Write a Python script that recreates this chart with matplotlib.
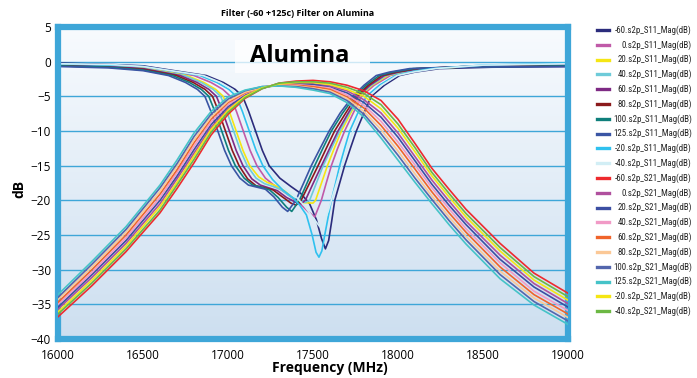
import numpy as np
import matplotlib
matplotlib.use('Agg')
import matplotlib.pyplot as plt
from matplotlib.colors import LinearSegmentedColormap
from matplotlib.lines import Line2D
from matplotlib.patches import Rectangle
from matplotlib import font_manager

# ---- S21 curves (shared frequency grid, MHz) ----
s21_freq = [16000, 16200, 16400, 16600, 16700, 16800, 16900, 17000, 17100, 17200, 17300, 17400, 17500,
            17600, 17700, 17800, 17900, 18000, 18100, 18200, 18300, 18400, 18600, 18800, 19000]
s21_m60 = [-36.8, -32.3, -27.4, -21.8, -18.3, -14.6, -10.6, -7.6, -5.3, -3.9, -3.1, -2.8, -2.7,
           -2.9, -3.4, -4.2, -5.6, -8.3, -11.8, -15.4, -18.4, -21.3, -26.2, -30.5, -33.4]
s21_m40 = [-36.4, -31.9, -27.0, -21.4, -17.8, -14.1, -10.2, -7.3, -5.2, -3.9, -3.1, -2.9, -2.9,
           -3.1, -3.7, -4.6, -6.2, -9.0, -12.4, -16.0, -19.0, -21.9, -26.8, -31.0, -33.9]
s21_m20 = [-36.1, -31.5, -26.6, -20.9, -17.4, -13.6, -9.8, -7.0, -5.0, -3.8, -3.2, -3.0, -3.0,
           -3.3, -4.0, -5.0, -6.8, -9.6, -13.0, -16.5, -19.5, -22.4, -27.3, -31.5, -34.4]
s21_p0 = [-35.7, -31.1, -26.2, -20.5, -16.9, -13.2, -9.5, -6.8, -4.9, -3.8, -3.2, -3.1, -3.2,
          -3.5, -4.2, -5.5, -7.4, -10.3, -13.7, -17.1, -20.1, -23.0, -27.9, -32.0, -34.9]
s21_p20 = [-35.4, -30.7, -25.8, -20.0, -16.5, -12.7, -9.1, -6.5, -4.8, -3.8, -3.3, -3.2, -3.3,
           -3.7, -4.5, -5.9, -8.0, -10.9, -14.3, -17.7, -20.7, -23.5, -28.5, -32.5, -35.4]
s21_p40 = [-35.0, -30.4, -25.4, -19.6, -16.0, -12.2, -8.7, -6.2, -4.6, -3.7, -3.3, -3.3, -3.5,
           -3.8, -4.8, -6.3, -8.6, -11.6, -14.9, -18.2, -21.2, -24.1, -29.0, -33.1, -35.9]
s21_p60 = [-34.7, -30.0, -25.0, -19.1, -15.6, -11.7, -8.3, -5.9, -4.5, -3.7, -3.4, -3.4, -3.6,
           -4.0, -5.1, -6.7, -9.2, -12.2, -15.5, -18.8, -21.8, -24.6, -29.6, -33.6, -36.4]
s21_p80 = [-34.3, -29.6, -24.6, -18.7, -15.1, -11.3, -8.0, -5.7, -4.4, -3.7, -3.4, -3.5, -3.8,
           -4.2, -5.3, -7.2, -9.8, -12.9, -16.2, -19.4, -22.4, -25.2, -30.2, -34.1, -36.9]
s21_p100 = [-34.0, -29.2, -24.2, -18.2, -14.7, -10.8, -7.6, -5.4, -4.2, -3.6, -3.5, -3.6, -3.9,
            -4.4, -5.6, -7.6, -10.4, -13.5, -16.8, -19.9, -22.9, -25.7, -30.7, -34.6, -37.4]
s21_p125 = [-33.6, -28.8, -23.8, -17.8, -14.2, -10.3, -7.2, -5.1, -4.1, -3.6, -3.5, -3.7, -4.1,
            -4.6, -5.9, -8.0, -11.0, -14.2, -17.4, -20.5, -23.5, -26.3, -31.3, -35.1, -37.9]

# ---- S11 curves (each with its own frequency points, MHz) ----
s11_f_m60 = [16000, 16300, 16500, 16736, 16872, 16972, 17042, 17086, 17122, 17162, 17202, 17242,
             17305, 17370, 17428, 17480, 17520, 17550, 17573, 17592, 17610, 17628, 17657, 17686,
             17720, 17755, 17798, 17843, 17920, 18009, 18100, 18244, 18550, 19000]
s11_db_m60 = [-0.2, -0.4, -0.6, -1.5, -2.0, -3.0, -4.0, -5.0, -7.2, -10.0, -12.8, -15.0,
              -16.8, -18.0, -19.0, -20.5, -22.8, -25.5, -27.0, -25.8, -23.0, -20.0, -17.5, -15.0,
              -12.5, -10.0, -7.5, -5.0, -3.4, -2.0, -1.5, -1.0, -0.8, -0.7]
s11_f_m40 = [16000, 16300, 16500, 16855, 16955, 17025, 17069, 17105, 17145, 17185, 17225,
             17285, 17340, 17400, 17450, 17500, 17540, 17560, 17590, 17620, 17670, 17700, 17735,
             17780, 17830, 17905, 17995, 18090, 18220, 18500, 19000]
s11_db_m40 = [-0.3, -0.4, -0.7, -2.0, -3.0, -4.0, -5.0, -7.2, -10.0, -12.8, -15.0,
              -17.0, -18.4, -19.5, -20.8, -22.5, -23.8, -23.5, -21.5, -19.0, -15.0, -12.5, -10.0,
              -7.5, -5.0, -3.4, -2.0, -1.5, -1.0, -0.5, -0.3]
s11_f_m20 = [16000, 16300, 16500, 16835, 16935, 17005, 17049, 17085, 17125, 17165, 17205,
             17262, 17322, 17380, 17422, 17461, 17495, 17518, 17535, 17552, 17569, 17608, 17633,
             17657, 17686, 17716, 17762, 17814, 17890, 17985, 18070, 18200, 18500, 19000]
s11_db_m20 = [-0.3, -0.5, -0.7, -2.0, -3.0, -4.0, -5.0, -7.2, -10.0, -12.8, -15.0,
              -17.0, -18.5, -19.6, -20.7, -22.1, -25.0, -27.5, -28.2, -27.3, -25.0, -20.0, -17.5,
              -15.0, -12.5, -10.0, -7.5, -5.0, -3.4, -2.0, -1.5, -1.0, -0.5, -0.2]
s11_f_p0 = [16000, 16300, 16500, 16800, 16900, 16970, 17014, 17050, 17090, 17130, 17170,
            17220, 17270, 17320, 17370, 17425, 17470, 17510, 17549, 17578, 17608, 17645, 17686,
            17735, 17784, 17860, 17955, 18045, 18180, 18500, 19000]
s11_db_p0 = [-0.4, -0.5, -0.8, -2.0, -3.0, -4.0, -5.0, -7.2, -10.0, -12.8, -15.0,
             -16.8, -17.8, -18.6, -19.5, -20.5, -21.6, -22.4, -20.0, -17.5, -15.0, -12.5, -10.0,
             -7.5, -5.0, -3.4, -2.0, -1.5, -1.0, -0.6, -0.4]
s11_f_p20 = [16000, 16300, 16500, 16758, 16858, 16928, 16972, 17008, 17048, 17088, 17128,
             17180, 17230, 17280, 17330, 17380, 17420, 17500, 17515, 17550, 17585, 17625, 17667,
             17720, 17775, 17848, 17940, 18030, 18160, 18450, 19000]
s11_db_p20 = [-0.4, -0.6, -0.9, -2.0, -3.0, -4.0, -5.0, -7.2, -10.0, -12.8, -15.0,
              -16.6, -17.4, -17.9, -18.6, -19.6, -20.3, -20.4, -20.0, -17.5, -15.0, -12.5, -10.0,
              -7.5, -5.0, -3.4, -2.0, -1.5, -1.0, -0.7, -0.5]
s11_f_p40 = [16000, 16300, 16500, 16743, 16843, 16913, 16957, 16993, 17033, 17073, 17113,
             17165, 17215, 17265, 17315, 17370, 17425, 17455, 17480, 17520, 17560, 17608, 17657,
             17712, 17770, 17842, 17930, 18020, 18150, 18450, 19000]
s11_db_p40 = [-0.5, -0.7, -1.0, -2.0, -3.0, -4.0, -5.0, -7.2, -10.0, -12.8, -15.0,
              -16.8, -17.6, -18.0, -18.5, -19.5, -20.1, -20.3, -20.0, -17.5, -15.0, -12.5, -10.0,
              -7.5, -5.0, -3.4, -2.0, -1.5, -1.0, -0.6, -0.4]
s11_f_p60 = [16000, 16300, 16500, 16718, 16818, 16888, 16932, 16968, 17008, 17048, 17088,
             17140, 17190, 17240, 17290, 17345, 17400, 17430, 17455, 17502, 17550, 17598, 17647,
             17705, 17765, 17835, 17920, 18005, 18130, 18400, 19000]
s11_db_p60 = [-0.5, -0.7, -1.0, -2.0, -3.0, -4.0, -5.0, -7.2, -10.0, -12.8, -15.0,
              -16.9, -17.8, -18.2, -18.6, -19.6, -20.3, -20.5, -20.0, -17.5, -15.0, -12.5, -10.0,
              -7.5, -5.0, -3.4, -2.0, -1.5, -1.0, -0.7, -0.5]
s11_f_p80 = [16000, 16300, 16500, 16695, 16795, 16865, 16909, 16945, 16985, 17025, 17065,
             17115, 17165, 17215, 17265, 17320, 17370, 17400, 17430, 17480, 17530, 17578, 17627,
             17690, 17755, 17825, 17905, 17990, 18110, 18400, 19000]
s11_db_p80 = [-0.6, -0.8, -1.1, -2.0, -3.0, -4.0, -5.0, -7.2, -10.0, -12.8, -15.0,
              -16.9, -17.9, -18.2, -18.5, -19.5, -20.4, -20.7, -20.0, -17.5, -15.0, -12.5, -10.0,
              -7.5, -5.0, -3.4, -2.0, -1.5, -1.0, -0.7, -0.6]
s11_f_p100 = [16000, 16300, 16500, 16673, 16773, 16843, 16887, 16923, 16963, 17003, 17043,
              17095, 17145, 17195, 17245, 17295, 17345, 17375, 17420, 17465, 17510, 17558, 17608,
              17672, 17745, 17812, 17890, 17970, 18090, 18350, 19000]
s11_db_p100 = [-0.6, -0.8, -1.2, -2.0, -3.0, -4.0, -5.0, -7.2, -10.0, -12.8, -15.0,
               -16.8, -17.8, -18.1, -18.5, -19.6, -21.0, -21.6, -20.0, -17.5, -15.0, -12.5, -10.0,
               -7.5, -5.0, -3.4, -2.0, -1.5, -1.0, -0.8, -0.6]
s11_f_p125 = [16000, 16300, 16500, 16650, 16750, 16820, 16864, 16900, 16940, 16980, 17020,
              17070, 17120, 17170, 17220, 17270, 17320, 17351, 17399, 17445, 17490, 17540, 17595,
              17660, 17734, 17800, 17872, 17950, 18068, 18300, 19000]
s11_db_p125 = [-0.7, -0.9, -1.3, -2.0, -3.0, -4.0, -5.0, -7.2, -10.0, -12.8, -15.0,
               -16.8, -17.8, -18.1, -18.4, -19.5, -21.0, -21.6, -20.0, -17.5, -15.0, -12.6, -10.0,
               -7.4, -5.0, -3.4, -2.0, -1.5, -1.0, -0.8, -0.7]

temps = ['-60', '0', '20', '40', '60', '80', '100', '125', '-20', '-40']
s11_freqs = [s11_f_m60, s11_f_p0, s11_f_p20, s11_f_p40, s11_f_p60, s11_f_p80, s11_f_p100, s11_f_p125, s11_f_m20, s11_f_m40]
s11_dbs = [s11_db_m60, s11_db_p0, s11_db_p20, s11_db_p40, s11_db_p60, s11_db_p80, s11_db_p100, s11_db_p125, s11_db_m20, s11_db_m40]
s21_dbs = [s21_m60, s21_p0, s21_p20, s21_p40, s21_p60, s21_p80, s21_p100, s21_p125, s21_m20, s21_m40]
s11_colors = ['#2b2c7c', '#c05aa8', '#f5e614', '#6ecbd9', '#7e2a84', '#8b1a1c', '#0f7f7b', '#3a55a4', '#2fc1ef', '#d2eef5']
s21_colors = ['#ee2a2e', '#b0509e', '#3c4fa3', '#f19ac6', '#f0642a', '#fbc896', '#5366ad', '#45c3c8', '#f5e614', '#6cb844']

names = set(f.name for f in font_manager.fontManager.ttflist)
narrow = 'DejaVu Sans'
for cand in ['Roboto Condensed', 'Liberation Sans Narrow', 'Liberation Sans', 'Roboto']:
    if cand in names:
        narrow = cand
        break
main_font = 'Open Sans' if 'Open Sans' in names else 'DejaVu Sans'
plt.rcParams['font.family'] = [main_font, 'DejaVu Sans']

W, H = 697, 378
fig = plt.figure(figsize=(W / 100, H / 100), dpi=100)
ax = fig.add_axes([58 / W, 1 - 339 / H, 510 / W, 312 / H])

# background gradient
bg = LinearSegmentedColormap.from_list('bg', ['#f8fbfe', '#cddff0'])
ax.imshow(np.linspace(0, 1, 256).reshape(-1, 1), extent=[16000, 19000, -40, 5],
          aspect='auto', cmap=bg, origin='upper', zorder=0)

for f, d, c in zip(s11_freqs, s11_dbs, s11_colors):
    ax.plot(f, d, color=c, lw=1.2, zorder=2)
for d, c in zip(s21_dbs, s21_colors):
    ax.plot(s21_freq, d, color=c, lw=1.2, zorder=3)

ax.set_xlim(16000, 19000)
ax.set_ylim(-40, 5)
ax.set_xticks(range(16000, 19001, 500))
ax.set_yticks(range(-40, 6, 5))
ax.set_axisbelow(True)
ax.yaxis.grid(True, color='#3ea6d8', lw=1)
for s in ax.spines.values():
    s.set_color('#3ea6d8')
    s.set_linewidth(4.5)
ax.tick_params(length=0, labelsize=8.5)
ax.tick_params(axis='x', pad=7)
ax.tick_params(axis='y', pad=5)

ax.set_xlabel('Frequency (MHz)', fontsize=10, fontweight='bold')
ax.xaxis.set_label_coords(0.533, -0.07)
ax.set_ylabel('dB', fontsize=10, fontweight='bold')
ax.yaxis.set_label_coords(-0.062, 0.48)

fig.text(298 / W, 1 - 13 / H, 'Filter (-60 +125c) Filter on Alumina', fontsize=6.5,
         fontweight='bold', ha='center', va='center')

# "Alumina" label on a translucent white panel
ax.add_patch(Rectangle((17040, -1.6), 793, 4.7, facecolor='white', edgecolor='none', alpha=0.75, zorder=4))
ax.text(17422, 0.8, 'Alumina', fontsize=17, fontweight='bold', ha='center', va='center', zorder=5)

# manual legend on the right, text right-aligned
labels = [t + '.s2p_S11_Mag(dB)' for t in temps] + [t + '.s2p_S21_Mag(dB)' for t in temps]
colors = s11_colors + s21_colors
renderer = fig.canvas.get_renderer()
probe = fig.text(0, 0, '-60.s2p_S11_Mag(dB)', fontsize=10, family=narrow)
wpx = probe.get_window_extent(renderer).width
probe.remove()
leg_size = 10 * 77.0 / wpx
for i, (lab, c) in enumerate(zip(labels, colors)):
    y = 1 - (30 + 14.8 * i) / H
    fig.add_artist(Line2D([597 / W, 609 / W], [y, y], color=c, lw=2.4))
    fig.text(692 / W, y, lab, fontsize=leg_size, family=narrow, ha='right', va='center', color='#222222')

fig.savefig('out.png', dpi=100)
